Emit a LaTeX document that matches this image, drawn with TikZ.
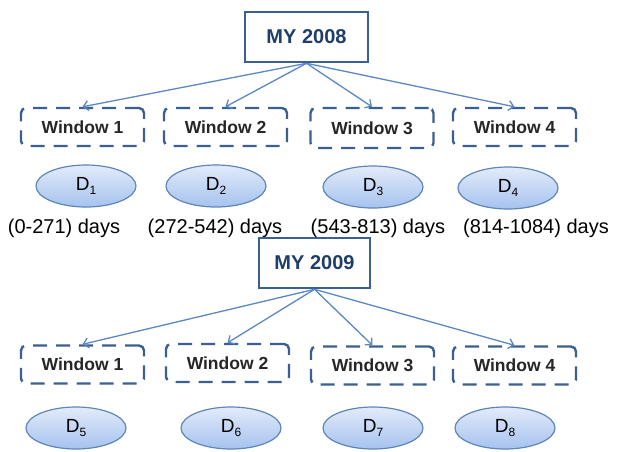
\documentclass[tikz,border=0pt]{standalone}
\usepackage{fontspec}
\setmainfont{Liberation Sans}
\usetikzlibrary{shapes.geometric,arrows.meta}
\definecolor{boxblue}{HTML}{3B5F8E}
\definecolor{arrowblue}{HTML}{5B88C2}
\definecolor{ellline}{HTML}{5F86B6}
\definecolor{elltop}{HTML}{E2EBFA}
\definecolor{ellbot}{HTML}{A6C2EE}
\definecolor{yeartext}{HTML}{203E6C}
\newcommand{\dsub}[1]{\raisebox{-0.25em}{\fontsize{12}{12}\selectfont #1}}

\begin{document}
\begin{tikzpicture}[x=1pt,y=-1pt,
    year/.style={draw=boxblue,line width=2.6pt,fill=white,minimum height=50pt,text=yeartext,font=\fontsize{20}{24}\selectfont\bfseries},
    window/.style={draw=boxblue,line width=2.4pt,dash pattern=on 14pt off 9pt,rounded corners=5pt,minimum width=123pt,minimum height=38pt,text=black!85,font=\fontsize{17.5}{21}\selectfont\bfseries},
    data/.style={ellipse,draw=ellline,line width=1.2pt,top color=elltop,bottom color=ellbot,minimum width=100pt,minimum height=42pt,inner sep=0pt,font=\fontsize{19}{22}\selectfont},
    span/.style={inner sep=0pt,font=\fontsize{20}{24}\selectfont},
    link/.style={-{Straight Barb[length=5pt,width=10pt]},draw=arrowblue,line width=1.3pt}]
    \useasboundingbox (0,0) rectangle (619,451);

    % model year 2008
    \node[year,minimum width=123pt] (my8) at (306.5,37) {MY 2008};
    \node[window] (w81) at (82.5,127) {Window 1};
    \node[window] (w82) at (225.5,127) {Window 2};
    \node[window,minimum height=40pt] (w83) at (372,128) {Window 3};
    \node[window] (w84) at (514.5,127) {Window 4};
    \foreach \w in {w81,w82,w83,w84}
      \draw[link] (my8.south) -- (\w.north);
    \node[data] (d1) at (86,186) {D\dsub{1}};
    \node[data] (d2) at (216,186) {D\dsub{2}};
    \node[data] (d3) at (373,187) {D\dsub{3}};
    \node[data] (d4) at (508,188) {D\dsub{4}};
    \node[span] (s1) at (64,228) {(0-271) days};
    \node[span] (s2) at (215,228) {(272-542) days};
    \node[span] (s3) at (378,228) {(543-813) days};
    \node[span] (s4) at (536,228) {(814-1084) days};

    % model year 2009
    \node[year,minimum width=111pt] (my9) at (314.5,263) {MY 2009};
    \node[window] (w91) at (82.5,364.5) {Window 1};
    \node[window] (w92) at (227.5,363) {Window 2};
    \node[window] (w93) at (372.5,365.5) {Window 3};
    \node[window] (w94) at (514.5,365.5) {Window 4};
    \foreach \w in {w91,w92,w93,w94}
      \draw[link] (my9.south) -- (\w.north);
    \node[data] (d5) at (76,428) {D\dsub{5}};
    \node[data] (d6) at (231,428) {D\dsub{6}};
    \node[data] (d7) at (373,428) {D\dsub{7}};
    \node[data] (d8) at (505,428) {D\dsub{8}};
\end{tikzpicture}
\end{document}
